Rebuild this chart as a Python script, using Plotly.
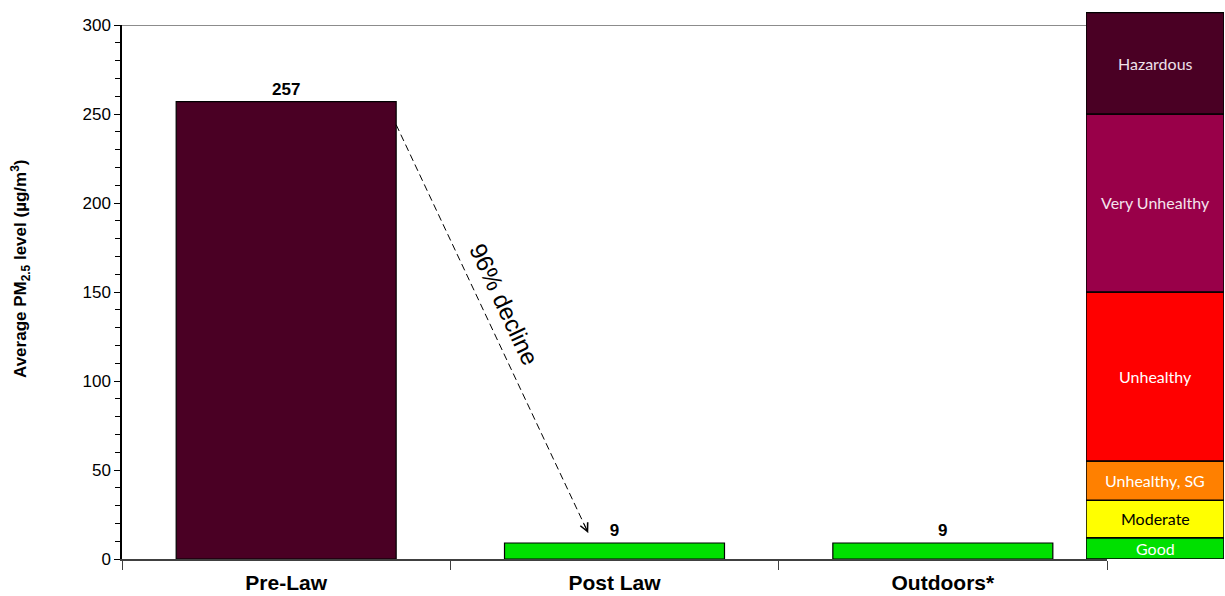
import plotly.graph_objects as go

# ---- data ----
categories = ["Pre-Law", "Post Law", "Outdoors*"]
pm25_values = [257, 9, 9]
bar_colors = ["#4a0024", "#00e000", "#00e000"]

aqi_labels = ["Good", "Moderate", "Unhealthy, SG", "Unhealthy", "Very Unhealthy", "Hazardous"]
aqi_lower = [0, 12, 33, 55, 150, 250]
aqi_upper = [12, 33, 55, 150, 250, 307]
aqi_colors = ["#00e000", "#ffff00", "#ff8000", "#ff0000", "#990049", "#4a0024"]
aqi_text_colors = ["#ffffff", "#000000", "#ffffff", "#ffffff", "#f4e4ee", "#eee0ea"]

decline_label = "96% decline"

W, H = 1225, 596
def px_x(p):
    return p / W
def px_y(p):
    return 1 - p / H

fig = go.Figure()

# main bars
fig.add_trace(go.Bar(
    x=categories, y=pm25_values, width=0.67,
    marker=dict(color=bar_colors, line=dict(color="#000000", width=1.2)),
    text=[str(v) for v in pm25_values], textposition="outside",
    textfont=dict(family="Liberation Sans", size=17, color="#000000", weight="bold"),
    cliponaxis=False, showlegend=False, hoverinfo="skip",
    xaxis="x", yaxis="y",
))

# AQI legend column (stacked)
for lab, lo, hi, col, tcol in zip(aqi_labels, aqi_lower, aqi_upper, aqi_colors, aqi_text_colors):
    fig.add_trace(go.Bar(
        x=[0], y=[hi - lo], base=[lo], width=1,
        marker=dict(color=col, line=dict(color="#000000", width=1.5)),
        showlegend=False, hoverinfo="skip",
        xaxis="x2", yaxis="y2",
    ))
    fig.add_annotation(
        x=0, y=(lo + hi) / 2, xref="x2", yref="y2", showarrow=False,
        text=lab, font=dict(family="Lato", size=16, color=tcol),
    )

# dashed decline arrow derived from bar data
bw = 0.67
tail_x, tail_y = 0 + bw / 2, pm25_values[0] - 13
head_x, head_y = 1 - 0.08, pm25_values[1] + 5.6
fig.add_trace(go.Scatter(
    x=[tail_x, head_x], y=[tail_y, head_y], mode="lines",
    line=dict(color="#000000", width=1, dash="7px,4px"),
    showlegend=False, hoverinfo="skip", xaxis="x3", yaxis="y",
))
# arrow head
fig.add_annotation(
    x=head_x, y=head_y, xref="x3", yref="y", showarrow=True,
    ax=-192 * 12 / 451, ay=-408 * 12 / 451, axref="pixel", ayref="pixel",
    arrowhead=5, arrowsize=1.6, arrowwidth=1, arrowcolor="#000000", text="",
)
fig.add_annotation(
    x=0.663, y=142.7, xref="x3", yref="y", showarrow=False,
    text=decline_label, textangle=65,
    font=dict(family="Liberation Sans", size=24, color="#000000"),
)

# y-axis title
fig.add_annotation(
    x=px_x(21), y=px_y(269), xref="paper", yref="paper", showarrow=False,
    xanchor="center", yanchor="middle",
    text="Average PM<sub>2.5</sub> level (µg/m<sup>3</sup>)", textangle=-90,
    font=dict(family="Liberation Sans", size=17, color="#000000", weight="bold"),
)

# top border at 300
fig.add_shape(type="line", xref="x domain", yref="y", x0=0, x1=1, y0=300, y1=300,
              line=dict(color="#8c8c8c", width=2), layer="below")

xdom = [px_x(122), px_x(1107)]
ydom = [px_y(559), px_y(25)]

fig.update_layout(
    width=W, height=H,
    margin=dict(l=0, r=0, t=0, b=0, pad=0, autoexpand=False),
    paper_bgcolor="#ffffff", plot_bgcolor="rgba(0,0,0,0)",
    barmode="overlay",
    xaxis=dict(
        domain=xdom, type="category", range=[-0.5, 2.5], automargin=False,
        showline=True, linecolor="#404040", linewidth=1.5,
        ticks="outside", tickson="boundaries", ticklen=9, tickcolor="#404040",
        ticklabelstandoff=4,
        showgrid=False, zeroline=False,
        tickfont=dict(family="Liberation Sans", size=21, color="#000000", weight="bold"),
        fixedrange=True,
    ),
    xaxis3=dict(
        domain=xdom, range=[-0.5, 2.5], overlaying="x", visible=False, fixedrange=True,
    ),
    yaxis=dict(
        domain=ydom, range=[0, 300], automargin=False,
        showline=True, linecolor="#000000", linewidth=1.5,
        ticks="outside", ticklen=6, tickcolor="#000000", dtick=50,
        minor=dict(dtick=10, ticks="outside", ticklen=5, tickcolor="#000000"),
        showgrid=False, zeroline=False,
        tickfont=dict(family="Liberation Sans", size=17, color="#000000"),
        fixedrange=True,
    ),
    xaxis2=dict(
        domain=[px_x(1086), px_x(1224)], range=[-0.5, 0.5], anchor="y2",
        visible=False, fixedrange=True,
    ),
    yaxis2=dict(
        domain=[px_y(559), px_y(12)], range=[0, 307.3], anchor="x2",
        visible=False, fixedrange=True,
    ),
)

fig.write_html("out.html", config={"displayModeBar": False},
               post_script="document.body.style.margin='0';")
